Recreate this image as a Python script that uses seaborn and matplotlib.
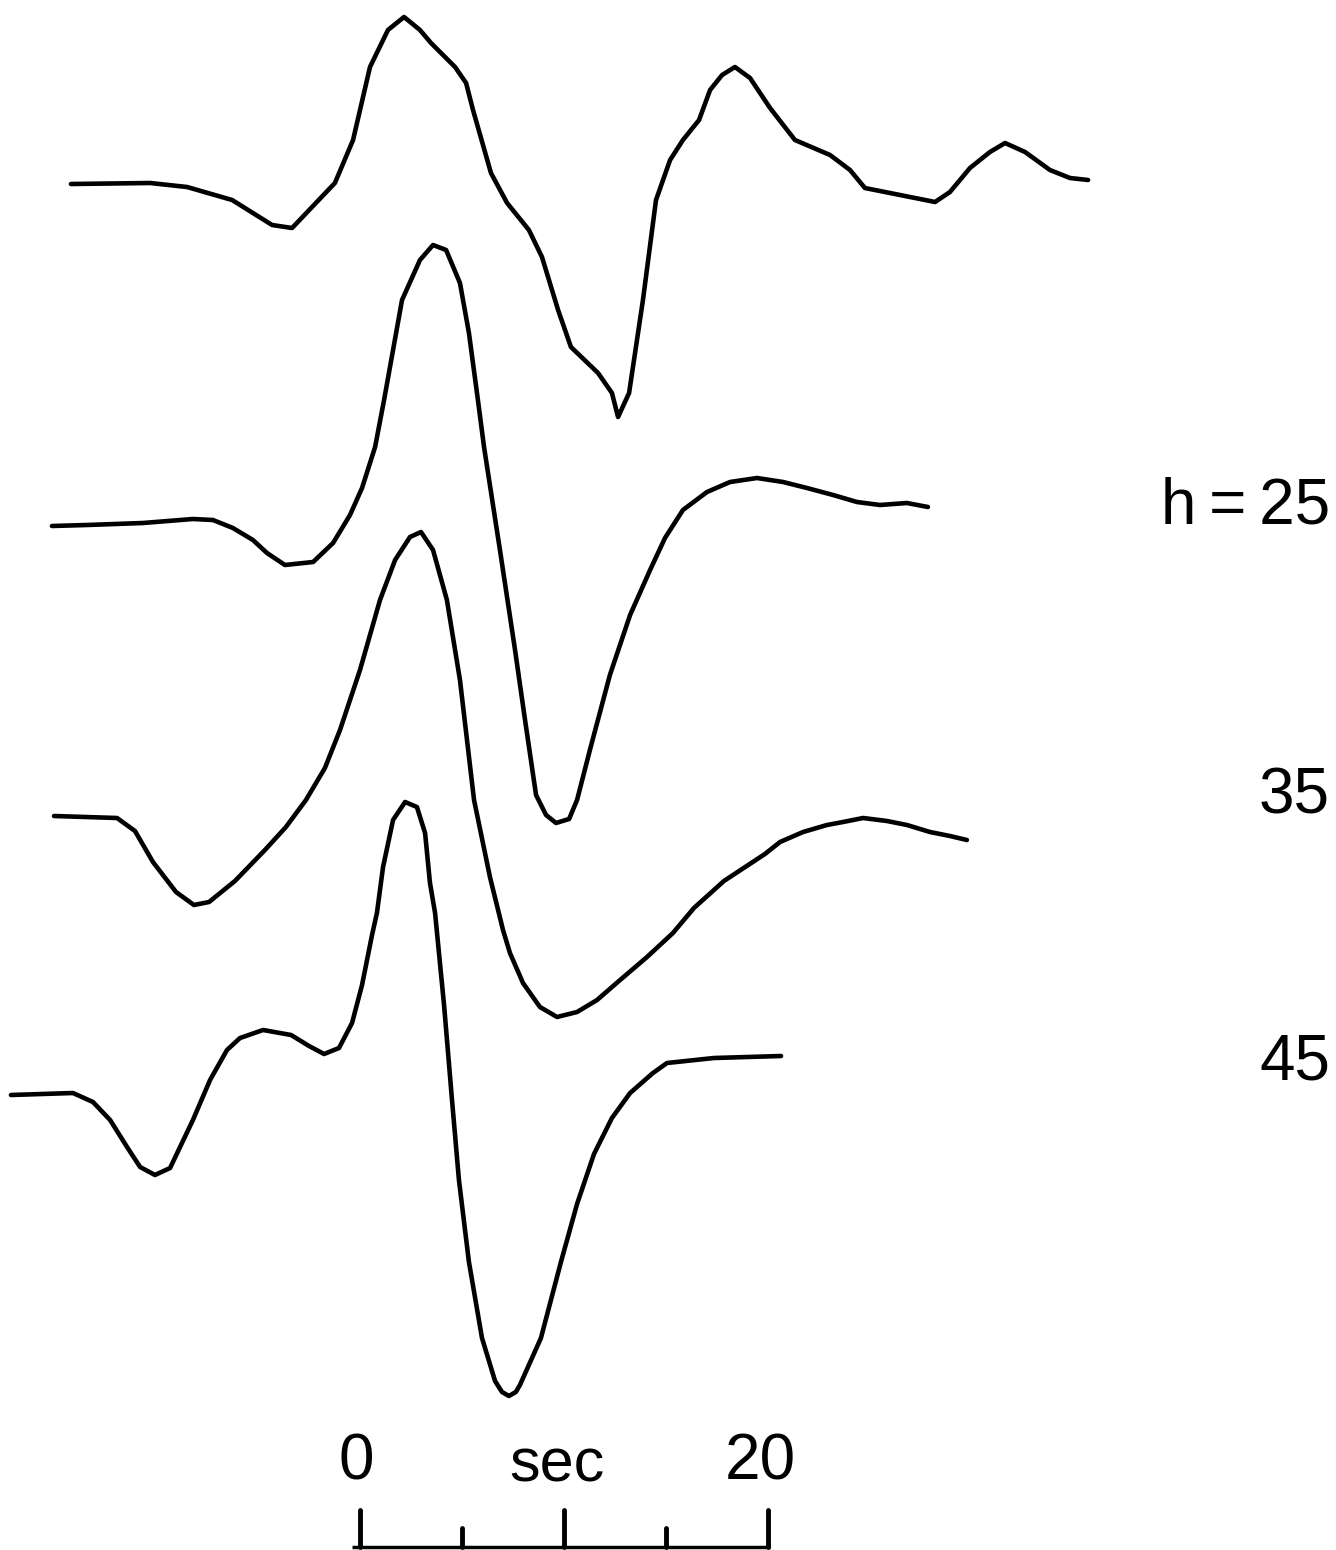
import matplotlib
matplotlib.use("Agg")
import matplotlib.pyplot as plt
import pandas as pd
import seaborn as sns

# time in seconds, amplitude in arbitrary record units (up = positive)
t_top = [-14.17, -10.29, -8.48, -6.27, -4.31, -3.33, -2.35, -1.23, -0.34, 0.49,
         1.37, 2.16, 2.94, 3.48, 4.66, 5.20, 5.54, 6.42, 7.21, 8.28,
         8.92, 9.71, 10.34, 11.67, 12.35, 12.65, 13.19, 13.87, 14.51, 15.20,
         15.83, 16.62, 17.16, 17.75, 18.38, 19.12, 20.10, 21.32, 23.04, 24.02,
         24.75, 26.47, 28.19, 28.92, 29.90, 30.88, 31.62, 32.60, 33.82, 34.80, 35.69]
a_top = [-1, 0, -4, -17, -42, -45, -24, 0, 43, 116,
         153, 166, 153, 140, 116, 100, 73, 10, -20, -47,
         -74, -127, -164, -190, -210, -234, -210, -117, -17, 23,
         43, 63, 93, 108, 116, 105, 75, 43, 28, 13,
         -5, -12, -19, -9, 15, 31, 40, 31, 13, 5, 3]

t_h25 = [-15.10, -13.38, -10.64, -8.19, -7.21, -6.23, -5.25, -4.56, -3.68, -2.30,
         -1.32, -0.49, 0.10, 0.74, 1.18, 2.06, 2.94, 3.58, 4.22, 4.90,
         5.34, 5.78, 6.08, 6.86, 7.60, 8.09, 8.63, 9.12, 9.61, 10.25,
         10.64, 11.27, 12.25, 13.24, 14.22, 14.95, 15.83, 17.01, 18.14, 19.46,
         20.74, 21.91, 23.19, 24.36, 25.49, 26.81, 27.84]
a_h25 = [-3, -2, 0, 4, 3, -5, -17, -30, -42, -39,
         -20, 8, 35, 76, 123, 223, 263, 278, 273, 240,
         190, 123, 76, -27, -127, -197, -272, -292, -300, -296,
         -277, -227, -152, -92, -47, -15, 13, 31, 41, 45,
         41, 35, 28, 21, 18, 20, 16]

t_h35 = [-15.00, -11.91, -11.03, -10.15, -9.02, -8.14, -7.40, -6.13, -4.66, -3.63,
         -2.65, -1.72, -0.98, 0.00, 0.98, 1.72, 2.45, 2.99, 3.58, 4.26,
         4.90, 5.59, 6.37, 7.01, 7.35, 7.99, 8.82, 9.66, 10.64, 11.62,
         12.75, 14.07, 15.34, 16.37, 17.84, 19.85, 20.59, 21.72, 22.89, 23.68,
         24.66, 25.83, 26.81, 27.94, 28.92, 29.75]
a_h35 = [0, -2, -15, -46, -76, -89, -86, -65, -34, -11,
         16, 48, 86, 146, 216, 256, 279, 284, 266, 216,
         136, 16, -61, -114, -137, -167, -191, -201, -196, -184,
         -164, -141, -117, -92, -65, -38, -26, -16, -9, -6,
         -2, -5, -9, -16, -20, -24]

t_h45 = [-17.11, -14.07, -13.09, -12.25, -11.42, -10.78, -10.05, -9.31, -8.82, -8.19,
         -7.35, -6.52, -5.88, -4.75, -3.38, -2.50, -1.76, -1.03, -0.39, 0.10,
         0.59, 0.83, 1.13, 1.62, 2.21, 2.79, 3.19, 3.43, 3.68, 4.12,
         4.51, 4.85, 5.34, 5.98, 6.62, 6.96, 7.30, 7.64, 7.84, 8.87, 9.85, 10.64,
         11.47, 12.35, 13.24, 14.36, 15.05, 17.35, 20.64]
a_h45 = [1, 3, -6, -24, -51, -71, -79, -72, -51, -24,
         16, 46, 58, 66, 61, 50, 42, 48, 73, 111,
         161, 183, 229, 276, 294, 289, 263, 213, 183, 91,
         -4, -84, -166, -242, -285, -296, -300, -296, -289, -242, -166, -108,
         -58, -22, 3, 23, 33, 38, 40]

labels = ["h\u2009=\u200925", "35", "45"]
scale_ticks = [0, 5, 10, 15, 20]

# vertical placement of the traces on the page
offsets = [-183, -523, -816, -1096]
label_y = [-507, -797, -1063]

traces = [(t_top, a_top), (t_h25, a_h25), (t_h35, a_h35), (t_h45, a_h45)]
rows = []
for i, (tt, aa) in enumerate(traces):
    for t, a in zip(tt, aa):
        rows.append({"trace": i, "time": t, "y": a + offsets[i]})
df = pd.DataFrame(rows)

sns.set_style("white")
plt.rcParams['font.family'] = ['Liberation Sans', 'DejaVu Sans']
plt.rcParams['text.color'] = 'black'

fig = plt.figure(figsize=(13.36, 15.5), dpi=100)
ax = fig.add_axes([0, 0, 1, 1])
sns.lineplot(data=df, x="time", y="y", units="trace", estimator=None, sort=False,
             color="black", linewidth=3.3, ax=ax, legend=False,
             solid_capstyle="round", solid_joinstyle="round")

for lab, ly in zip(labels, label_y):
    ax.text(47.55, ly, lab, ha="right", va="center", fontsize=46, color="black")

# time scale bar
bar_y = -1547
ax.plot([scale_ticks[0] - 0.4, scale_ticks[-1] + 0.1], [bar_y, bar_y],
        color="black", lw=2.5, solid_capstyle="butt")
for k, tk in enumerate(scale_ticks):
    top = bar_y + (37 if k % 2 == 0 else 19)
    ax.plot([tk, tk], [bar_y, top], color="black", lw=3.5, solid_capstyle="round")
ax.text(-0.2, -1462, "0", ha="center", va="center", fontsize=46, color="black")
ax.text(9.66, -1466, "sec", ha="center", va="center", fontsize=44, color="black")
ax.text(19.6, -1462, "20", ha="center", va="center", fontsize=46, color="black")

ax.set_xlim(-360 / 20.4, (1336 - 360) / 20.4)
ax.set_ylim(-1550, 0)
ax.axis("off")

fig.savefig("out.png", dpi=100, facecolor="white")
